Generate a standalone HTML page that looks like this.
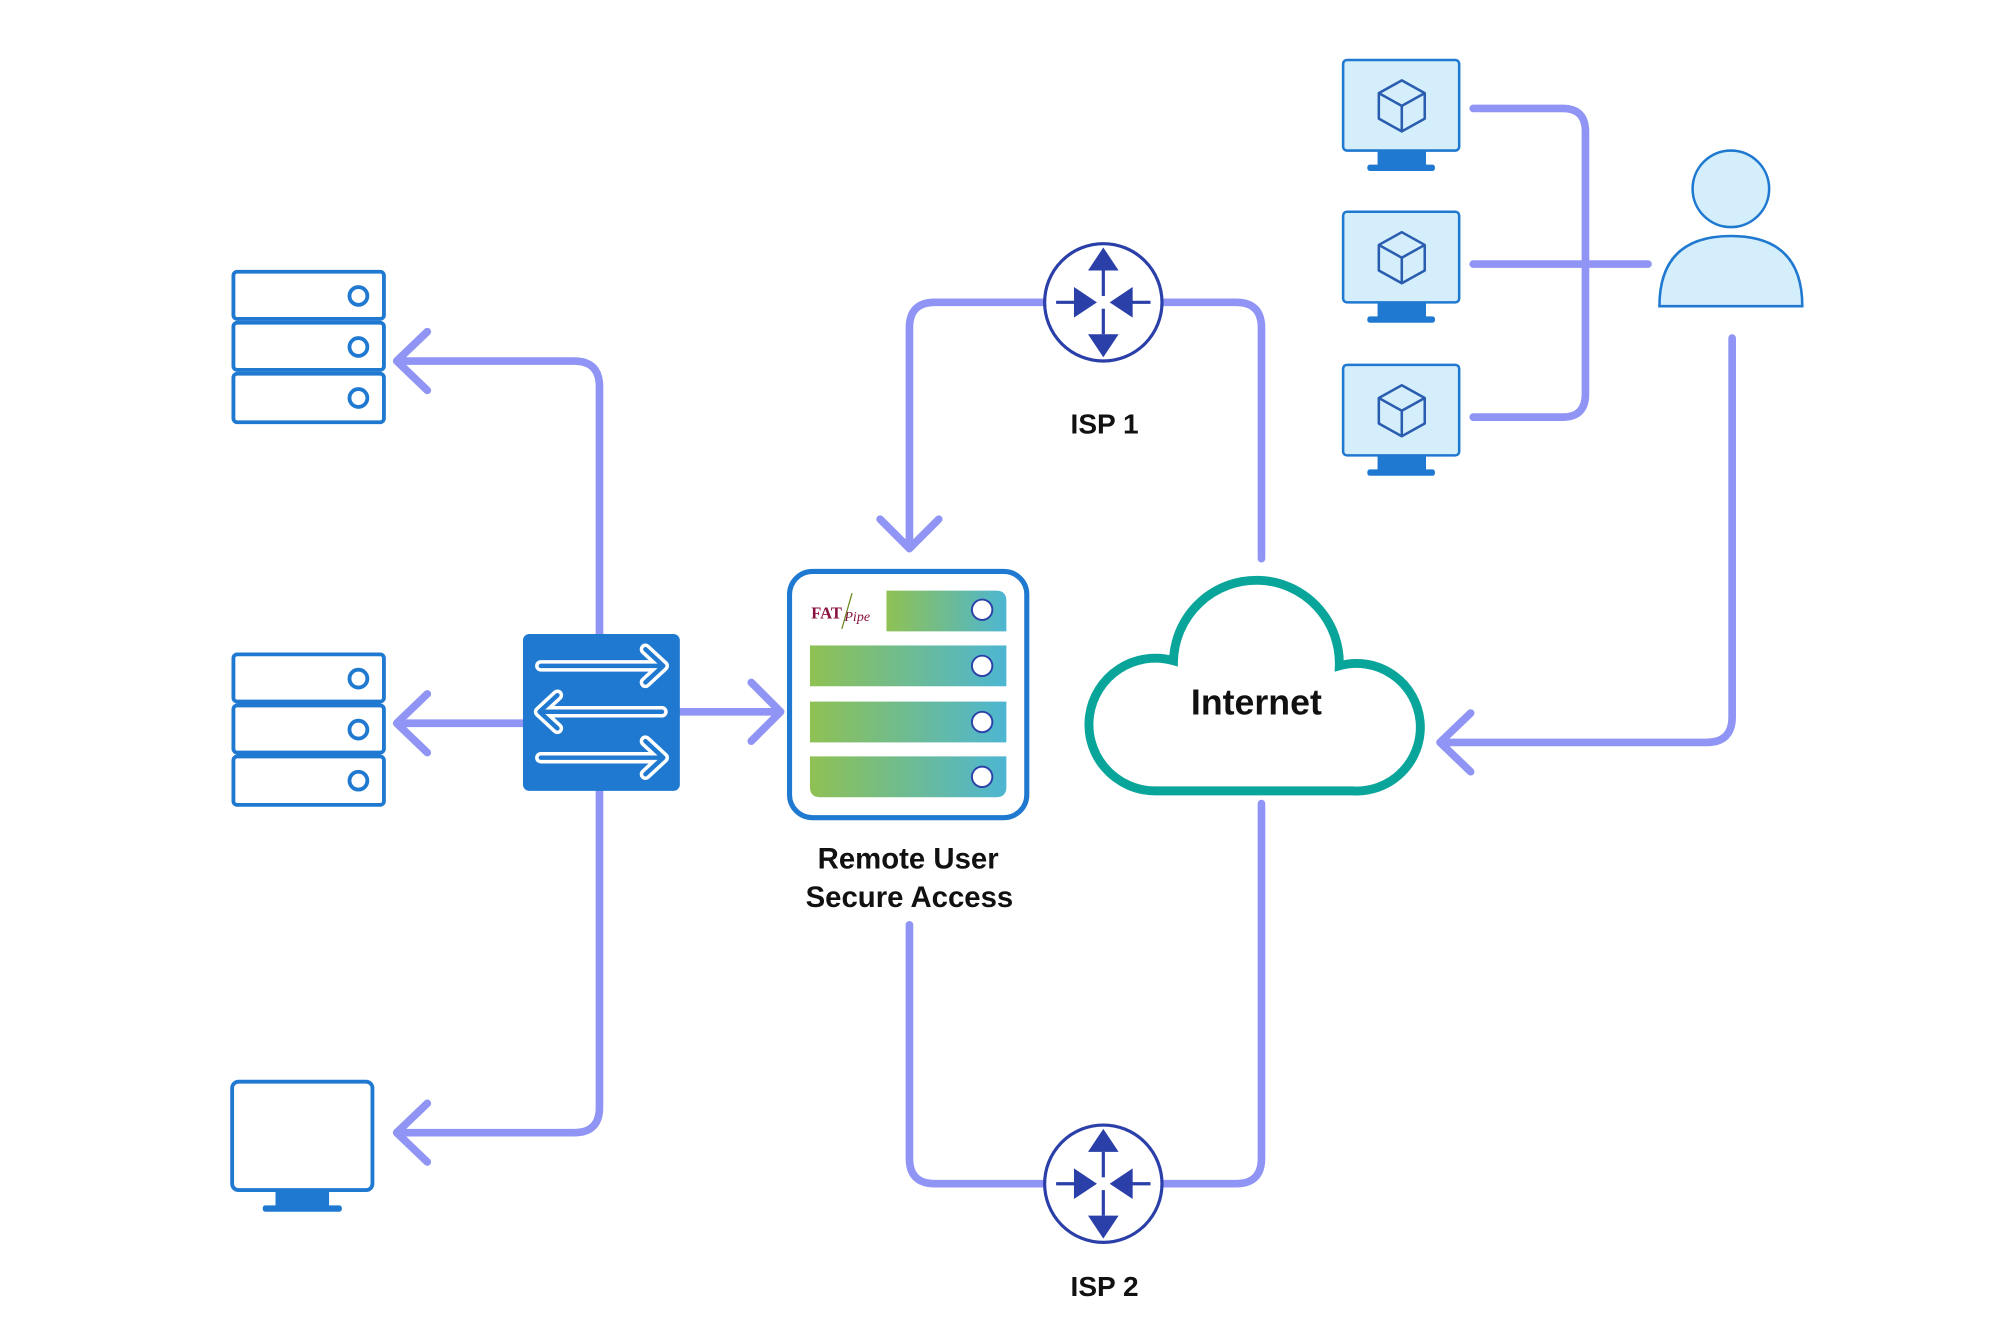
<!DOCTYPE html>
<html><head><meta charset="utf-8"><style>
html,body{margin:0;padding:0;background:#fff;}
svg{display:block}
text{font-family:"Liberation Sans",sans-serif;font-weight:bold;fill:#111}
</style></head><body>
<svg width="2000" height="1333" viewBox="0 0 1568 1045" xmlns="http://www.w3.org/2000/svg">
<defs>
<linearGradient id="g" x1="0" x2="1"><stop offset="0" stop-color="#8fc153"/><stop offset="1" stop-color="#4db6d2"/></linearGradient>
<g id="stack" fill="#fff" stroke="#2079d0" stroke-width="3">
<rect x="183" y="0" width="118" height="37" rx="3"/><circle cx="281" cy="19" r="7"/>
<rect x="183" y="40" width="118" height="37" rx="3"/><circle cx="281" cy="59" r="7"/>
<rect x="183" y="80" width="118" height="38" rx="3"/><circle cx="281" cy="99" r="7"/>
</g>
<g id="router">
<circle r="46" fill="#fff" stroke="#2a3fa8" stroke-width="2.5"/>
<g stroke="#2a3fa8" stroke-width="2.5"><line x1="0" y1="-25" x2="0" y2="-5"/><line x1="0" y1="5" x2="0" y2="25"/><line x1="-37" y1="0" x2="-20" y2="0"/><line x1="20" y1="0" x2="37" y2="0"/></g>
<g fill="#2a3fa8"><polygon points="0,-43 -12,-25 12,-25"/><polygon points="0,43 -12,25 12,25"/><polygon points="-5,0 -23,-12 -23,12"/><polygon points="5,0 23,-12 23,12"/></g>
</g>
<g id="pc">
<rect x="1053" y="0" width="91" height="71" rx="3" fill="#d4eefb" stroke="#2079d0" stroke-width="2"/>
<rect x="1080" y="71" width="38" height="12" fill="#2079d0"/><rect x="1072" y="82" width="53" height="5" rx="2" fill="#2079d0"/>
<g fill="none" stroke="#2a5db0" stroke-width="2" stroke-linejoin="round"><path d="M1099 16 L1117 26 L1117 46 L1099 56 L1081 46 L1081 26 Z"/><path d="M1081 26 L1099 36 L1117 26 M1099 36 L1099 56"/></g>
</g>
<g id="arrR"><path d="M424 0 H518 M506 -13 L520 0 L506 13"/></g>
</defs>

<g fill="none" stroke="#8f94f5" stroke-width="6" stroke-linecap="round" stroke-linejoin="round">
<path d="M470 497 V303 Q470 283 450 283 H312"/><path d="M335 260 L311 283 L335 306"/>
<path d="M410 567 H312"/><path d="M335 544 L311 567 L335 590"/>
<path d="M470 620 V868 Q470 888 450 888 H312"/><path d="M335 865 L311 888 L335 911"/>
<path d="M533 558 H610"/><path d="M589 535 L612 558 L589 581"/>
<path d="M819 237 H733 Q713 237 713 257 V430"/><path d="M690 407 L713 430 L736 407"/>
<path d="M911 237 H969 Q989 237 989 257 V438"/>
<path d="M713 725 V908 Q713 928 733 928 H819"/>
<path d="M911 928 H969 Q989 928 989 908 V630"/>
<path d="M1358 265 V562 Q1358 582 1338 582 H1130"/><path d="M1153 559 L1129 582 L1153 605"/>
<path d="M1155 85 H1225 Q1243 85 1243 103 V309 Q1243 327 1225 327 H1155"/>
<path d="M1155 207 H1292"/>
</g>

<use href="#stack" y="213"/>
<use href="#stack" y="513"/>
<g>
<rect x="182" y="848" width="110" height="85" rx="5" fill="#fff" stroke="#2079d0" stroke-width="3"/>
<rect x="216" y="933" width="42" height="13" fill="#2079d0"/><rect x="206" y="945" width="62" height="5" rx="2" fill="#2079d0"/>
</g>

<rect x="410" y="497" width="123" height="123" rx="5" fill="#2079d0"/>
<g fill="none" stroke="#fff" stroke-width="9" stroke-linejoin="round" stroke-linecap="round">
<use href="#arrR" y="522"/><use href="#arrR" y="594"/><use href="#arrR" transform="translate(943 0) scale(-1 1)" y="558"/>
</g>
<g fill="none" stroke="#2079d0" stroke-width="3.5" stroke-linejoin="round" stroke-linecap="round">
<use href="#arrR" y="522"/><use href="#arrR" y="594"/><use href="#arrR" transform="translate(943 0) scale(-1 1)" y="558"/>
</g>

<rect x="619" y="448" width="186" height="193" rx="18" fill="#fff" stroke="#2079d0" stroke-width="4"/>
<path d="M695 463 H781 Q789 463 789 471 V495 H695 Z" fill="url(#g)"/>
<rect x="635" y="506" width="154" height="32" fill="url(#g)"/>
<rect x="635" y="550" width="154" height="32" fill="url(#g)"/>
<path d="M635 593 H789 V617 Q789 625 781 625 H643 Q635 625 635 617 Z" fill="url(#g)"/>
<g fill="#fff" stroke="#2a3fa8" stroke-width="1.5"><circle cx="770" cy="478" r="8"/><circle cx="770" cy="522" r="8"/><circle cx="770" cy="566" r="8"/><circle cx="770" cy="609" r="8"/></g>
<text x="636" y="485" style="font-family:'Liberation Serif',serif;font-size:13px;fill:#8a1040">FAT</text>
<text x="662" y="487" style="font-family:'Liberation Serif',serif;font-style:italic;font-weight:normal;font-size:11px;fill:#8a1040">Pipe</text>
<line x1="668" y1="465" x2="660" y2="493" stroke="#6a8a20" stroke-width="1"/>

<text x="712" y="681" font-size="23" text-anchor="middle">Remote User</text>
<text x="713" y="711" font-size="23" text-anchor="middle">Secure Access</text>

<use href="#router" x="865" y="237"/>
<use href="#router" x="865" y="928"/>
<text x="866" y="340" font-size="22" text-anchor="middle">ISP 1</text>
<text x="866" y="1016" font-size="22" text-anchor="middle">ISP 2</text>

<path d="M905 620 A52 52 0 1 1 920 518 A65 65 0 1 1 1050 522 A50 50 0 1 1 1060 620 Z" fill="#fff" stroke="#0aa59a" stroke-width="7"/>
<text x="985" y="560" font-size="28" text-anchor="middle">Internet</text>

<use href="#pc" y="47"/>
<use href="#pc" y="166"/>
<use href="#pc" y="286"/>

<circle cx="1357" cy="148" r="30" fill="#d4eefb" stroke="#2079d0" stroke-width="2"/>
<path d="M1301 240 Q1301 185 1357 185 Q1413 185 1413 240 Z" fill="#d4eefb" stroke="#2079d0" stroke-width="2"/>
</svg>
</body></html>
